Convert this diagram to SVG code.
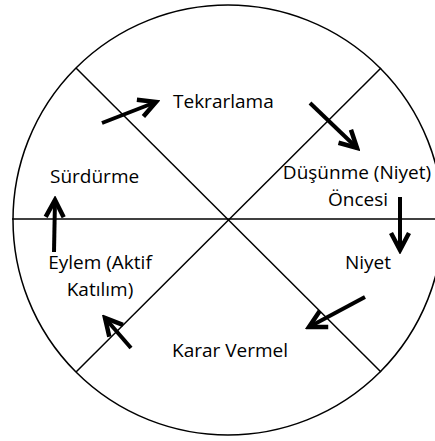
<svg xmlns="http://www.w3.org/2000/svg" width="435" height="441" viewBox="0 0 435 441">
<defs>
<style>
.thin{fill:none;stroke:#000;stroke-width:1.5}
.arr{fill:none;stroke:#000;stroke-width:4;marker-end:url(#head)}
text{font-family:"Open Sans","Noto Sans",sans-serif;font-size:19px;fill:#000}
</style>
<marker id="head" markerUnits="userSpaceOnUse" viewBox="-22 -13 26 26" refX="0" refY="0" markerWidth="26" markerHeight="26" orient="auto">
<path d="M-17,-9 L0,0 L-17,9" fill="none" stroke="#000" stroke-width="4.5" stroke-linejoin="miter"/>
</marker>
</defs>
<rect width="435" height="441" fill="#fff"/>
<g id="frame">
<circle class="thin" cx="228" cy="220" r="215"/>
<line class="thin" x1="12" y1="219" x2="435" y2="219"/>
<line class="thin" x1="76" y1="68" x2="381" y2="372"/>
<line class="thin" x1="381" y1="68" x2="76" y2="372"/>
</g>
<g id="tekrarlama"><text x="173" y="108">Tekrarlama</text></g>
<g id="surdurme"><text x="50" y="183">Sürdürme</text></g>
<g id="dusunme"><text x="357" y="179" text-anchor="middle">Düşünme (Niyet)</text><text x="358" y="206" text-anchor="middle">Öncesi</text></g>
<g id="niyet"><text x="345" y="269">Niyet</text></g>
<g id="karar"><text x="172" y="357">Karar Vermel</text></g>
<g id="eylem"><text x="100" y="269" text-anchor="middle">Eylem (Aktif</text><text x="100" y="296" text-anchor="middle">Katılım)</text></g>
<g id="connectors">
<line class="arr" x1="102" y1="123" x2="156" y2="102"/>
<line class="arr" x1="310" y1="103" x2="357" y2="148"/>
<line class="arr" x1="400" y1="197" x2="400" y2="250"/>
<line class="arr" x1="365" y1="297" x2="309" y2="327"/>
<line class="arr" x1="131" y1="348" x2="105" y2="318"/>
<line class="arr" x1="54" y1="252" x2="55" y2="200"/>
</g>
</svg>
